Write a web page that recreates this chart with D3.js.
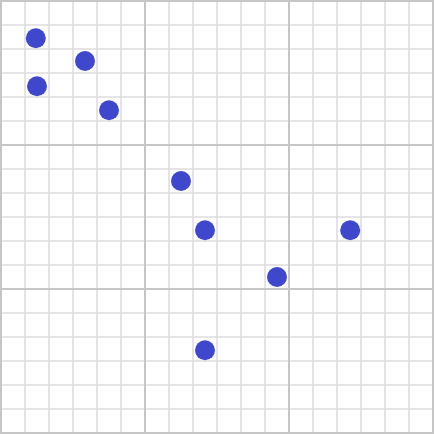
<!DOCTYPE html>
<html><head><meta charset="utf-8">
<script src="https://cdn.jsdelivr.net/npm/d3@7"></script>
<style>html,body{margin:0;padding:0;background:#fff;}svg{display:block;}</style>
</head><body>
<svg id="chart" width="434" height="434"></svg>
<script>
const xValues = [1.45, 3.5, 1.5, 4.5, 7.5, 8.5, 14.55, 11.5, 8.5];
const yValues = [1.55, 2.5, 3.55, 4.55, 7.5, 9.55, 9.55, 11.5, 14.55];
const minorTicks = d3.range(0, 19, 1);
const majorTicks = [0, 6, 12, 18];

const svg = d3.select("#chart");
const x = d3.scaleLinear().domain([0, 18]).range([1, 433]);
const y = d3.scaleLinear().domain([0, 18]).range([1, 433]);

const g = svg.append("g");
g.selectAll("line.vmin").data(minorTicks.filter(t => !majorTicks.includes(t))).join("line")
  .attr("x1", d => x(d)).attr("x2", d => x(d)).attr("y1", 0).attr("y2", 434)
  .attr("stroke", "#dddddd").attr("stroke-width", 1.6);
g.selectAll("line.hmin").data(minorTicks.filter(t => !majorTicks.includes(t))).join("line")
  .attr("y1", d => y(d)).attr("y2", d => y(d)).attr("x1", 0).attr("x2", 434)
  .attr("stroke", "#dddddd").attr("stroke-width", 1.6);
g.selectAll("line.vmaj").data(majorTicks).join("line")
  .attr("x1", d => x(d)).attr("x2", d => x(d)).attr("y1", 0).attr("y2", 434)
  .attr("stroke", "#c6c6c6").attr("stroke-width", 2);
g.selectAll("line.hmaj").data(majorTicks).join("line")
  .attr("y1", d => y(d)).attr("y2", d => y(d)).attr("x1", 0).attr("x2", 434)
  .attr("stroke", "#c6c6c6").attr("stroke-width", 2);

const pts = xValues.map((v, i) => ({x: v, y: yValues[i]}));
svg.append("g").selectAll("circle").data(pts).join("circle")
  .attr("cx", d => x(d.x)).attr("cy", d => y(d.y)).attr("r", 10)
  .attr("fill", "#3f48cc");
</script>
</body></html>
